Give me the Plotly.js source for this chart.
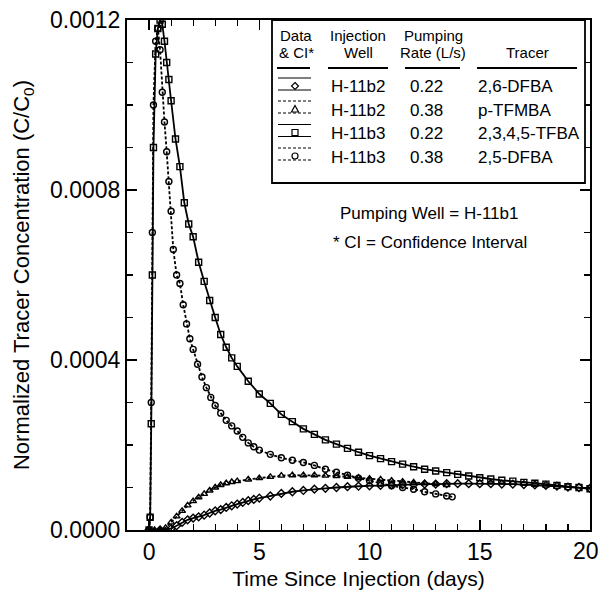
<!DOCTYPE html>
<html>
<head>
<meta charset="utf-8">
<script src="https://cdn.plot.ly/plotly-3.0.1.min.js"></script>
<style>html,body{margin:0;padding:0;background:#fff;}#chart{width:601px;height:602px;}</style>
</head>
<body>
<div id="chart"></div>
<script>
// ---- Data ----
// H-11b2, 0.22 L/s, 2,6-DFBA (diamonds, solid)
const tB2_022 = [0,0.5,1.0,1.25,1.5,1.75,2.0,2.25,2.5,2.75,3.0,3.25,3.5,3.75,4.0,4.25,4.5,4.75,5.0,5.5,6.0,6.5,7.0,7.5,8.0,8.5,9.0,9.5,10,10.5,11,11.5,12,12.5,13,13.5,14,14.5,15,15.5,16,16.5,17,17.5,18,18.5,19,19.5,20];
const cB2_022 = [0,0,0.03e-4,0.10e-4,0.18e-4,0.24e-4,0.28e-4,0.31e-4,0.35e-4,0.40e-4,0.45e-4,0.48e-4,0.53e-4,0.57e-4,0.61e-4,0.65e-4,0.69e-4,0.72e-4,0.75e-4,0.80e-4,0.86e-4,0.90e-4,0.93e-4,0.96e-4,0.98e-4,1.00e-4,1.02e-4,1.03e-4,1.04e-4,1.05e-4,1.06e-4,1.07e-4,1.07e-4,1.08e-4,1.08e-4,1.09e-4,1.09e-4,1.09e-4,1.09e-4,1.09e-4,1.08e-4,1.08e-4,1.07e-4,1.06e-4,1.05e-4,1.03e-4,1.01e-4,1.00e-4,0.98e-4];
// H-11b2, 0.38 L/s, p-TFMBA (triangles, dashed)
const tB2_038 = [0,0.25,0.5,0.75,1.0,1.25,1.5,1.75,2.0,2.25,2.5,2.75,3.0,3.25,3.5,3.75,4.0,4.5,5.0,5.5,6.0,6.5,7.0,7.5,8.0,8.5,9.0,9.5,10,10.5,11,11.5,12,12.5,13,13.5];
const cB2_038 = [0,0,0,0.05e-4,0.18e-4,0.32e-4,0.45e-4,0.58e-4,0.68e-4,0.77e-4,0.85e-4,0.93e-4,1.00e-4,1.06e-4,1.10e-4,1.13e-4,1.15e-4,1.19e-4,1.22e-4,1.25e-4,1.28e-4,1.29e-4,1.29e-4,1.29e-4,1.28e-4,1.27e-4,1.25e-4,1.23e-4,1.21e-4,1.19e-4,1.16e-4,1.14e-4,1.12e-4,1.10e-4,1.08e-4,1.06e-4];
// H-11b3, 0.22 L/s, 2,3,4,5-TFBA (squares, solid)
const tB3_022 = [0,0.05,0.1,0.15,0.2,0.3,0.4,0.5,0.6,0.7,0.8,0.9,1.0,1.2,1.4,1.6,1.8,2.0,2.25,2.5,2.75,3.0,3.25,3.5,3.75,4.0,4.5,5.0,5.5,6.0,6.5,7.0,7.5,8.0,8.5,9.0,9.5,10,10.5,11,11.5,12,12.5,13,13.5,14,14.5,15,15.5,16,16.5,17,17.5,18,18.5,19,19.5,20];
const cB3_022 = [0,0.3e-4,2.5e-4,6.0e-4,9.0e-4,11.2e-4,11.8e-4,12.0e-4,11.9e-4,11.5e-4,11.0e-4,10.6e-4,10.1e-4,9.2e-4,8.55e-4,7.7e-4,7.2e-4,6.9e-4,6.3e-4,5.85e-4,5.4e-4,5.0e-4,4.6e-4,4.3e-4,4.05e-4,3.85e-4,3.5e-4,3.2e-4,2.98e-4,2.72e-4,2.55e-4,2.38e-4,2.25e-4,2.12e-4,2.02e-4,1.92e-4,1.83e-4,1.75e-4,1.68e-4,1.61e-4,1.55e-4,1.49e-4,1.43e-4,1.39e-4,1.35e-4,1.31e-4,1.27e-4,1.23e-4,1.20e-4,1.17e-4,1.15e-4,1.12e-4,1.10e-4,1.08e-4,1.05e-4,1.02e-4,1.00e-4,0.97e-4];
// H-11b3, 0.38 L/s, 2,5-DFBA (circles, dashed)
const tB3_038 = [0,0.05,0.1,0.15,0.2,0.3,0.4,0.5,0.6,0.7,0.8,0.9,1.0,1.1,1.25,1.4,1.55,1.7,1.85,2.0,2.2,2.4,2.6,2.8,3.0,3.25,3.5,3.75,4.0,4.25,4.5,4.75,5.0,5.5,6.0,6.5,7.0,7.5,8.0,8.5,9.0,9.5,10,10.5,11,11.5,12,12.5,13,13.5,13.75];
const cB3_038 = [0,0.3e-4,3.0e-4,7.0e-4,10.0e-4,11.5e-4,11.8e-4,11.3e-4,10.3e-4,9.6e-4,8.9e-4,8.2e-4,7.5e-4,6.6e-4,6.0e-4,5.8e-4,5.3e-4,4.85e-4,4.5e-4,4.25e-4,3.9e-4,3.6e-4,3.35e-4,3.12e-4,2.93e-4,2.75e-4,2.58e-4,2.45e-4,2.33e-4,2.18e-4,2.05e-4,1.96e-4,1.88e-4,1.78e-4,1.70e-4,1.64e-4,1.59e-4,1.52e-4,1.43e-4,1.36e-4,1.29e-4,1.22e-4,1.16e-4,1.10e-4,1.04e-4,1.00e-4,0.96e-4,0.90e-4,0.85e-4,0.80e-4,0.78e-4];

// Legend table text
const headerCols = [["Data","& CI*"],["Injection","Well"],["Pumping","Rate (L/s)"],["","Tracer"]];
const wells = ["H-11b2","H-11b2","H-11b3","H-11b3"];
const rates = ["0.22","0.38","0.22","0.38"];
const tracers = ["2,6-DFBA","p-TFMBA","2,3,4,5-TFBA","2,5-DFBA"];
const symbols = ["diamond","triangle","square","circle"];
const dashes = ["solid","dash","solid","dash"];
// x tick labels; the last one (at the right frame edge) is placed as a right-aligned label so it stays inside the page
const xTickVals = [0, 5, 10, 15];
const xTickText = ['0', '5', '10', '15'];
const xLastTick = '20';

// ---- Layout geometry (pixels) ----
const W = 601, H = 602;
const L = 127, R = 590, T = 20, B = 530;
const px = x => (x - L) / (R - L);
const py = y => (B - y) / (B - T);

const series = [
  {t: tB2_022, c: cB2_022, sym: 'diamond-open', dash: 'solid', size: 6},
  {t: tB2_038, c: cB2_038, sym: 'triangle-up-open', dash: '3px,2px', size: 6},
  {t: tB3_022, c: cB3_022, sym: 'square-open', dash: 'solid', size: 6},
  {t: tB3_038, c: cB3_038, sym: 'circle-open', dash: '3px,2px', size: 6}
];
const traces = series.map(s => ({
  x: s.t, y: s.c, type: 'scatter', mode: 'lines+markers',
  line: {color: '#000', width: 1.8, dash: s.dash},
  marker: {symbol: s.sym, size: s.size, color: '#000', line: {color: '#000', width: 1.4}},
  showlegend: false, cliponaxis: true
}));

const shapes = [];
const annotations = [];
const FONT = 'Liberation Sans, Arial, sans-serif';
// legend box
shapes.push({type:'rect', xref:'paper', yref:'paper', x0:px(272), x1:px(585), y0:py(183), y1:py(20), line:{color:'#000', width:1.8}, fillcolor:'#fff', layer:'above'});
// header underlines
[[277,310],[328,388],[405,460],[477,577]].forEach(([a,b]) => {
  shapes.push({type:'line', xref:'paper', yref:'paper', x0:px(a), x1:px(b), y0:py(68), y1:py(68), line:{color:'#000', width:2}, layer:'above'});
});
const hdrX = [296, 358, 433, 527];
headerCols.forEach((h, i) => {
  [35, 53].forEach((yy, k) => {
    if (h[k]) annotations.push({xref:'paper', yref:'paper', x:px(hdrX[i]), y:py(yy), text:h[k], showarrow:false, xanchor:'center', yanchor:'middle', font:{family:FONT, size:15, color:'#000'}});
  });
});
const rowY = [87, 110, 133.5, 157];
rowY.forEach((yy, i) => {
  const dash = dashes[i] === 'dash' ? '3px,2px' : 'solid';
  [yy - 9, yy + 3].forEach(ly => shapes.push({type:'line', xref:'paper', yref:'paper', x0:px(278), x1:px(311), y0:py(ly), y1:py(ly), line:{color:'#000', width:1.2, dash:dash}, layer:'above'}));
  const mx = 295, my = yy - 1, r = 3;
  const sym = symbols[i];
  if (sym === 'square') shapes.push({type:'rect', xref:'paper', yref:'paper', x0:px(mx-r), x1:px(mx+r), y0:py(my+r), y1:py(my-r), line:{color:'#000', width:1.2}, layer:'above'});
  else if (sym === 'circle') shapes.push({type:'circle', xref:'paper', yref:'paper', x0:px(mx-r), x1:px(mx+r), y0:py(my+r), y1:py(my-r), line:{color:'#000', width:1.2}, layer:'above'});
  else {
    const pts = sym === 'diamond' ? [[mx,my-r-0.5],[mx+r+0.5,my],[mx,my+r+0.5],[mx-r-0.5,my]] : [[mx,my-r-0.5],[mx+r+0.5,my+r],[mx-r-0.5,my+r]];
    const path = pts.map((p,j) => (j?'L':'M') + px(p[0]).toFixed(5) + ',' + py(p[1]).toFixed(5)).join(' ') + ' Z';
    shapes.push({type:'path', xref:'paper', yref:'paper', path:path, line:{color:'#000', width:1.2}, layer:'above'});
  }
  const f = {family:FONT, size:17, color:'#000'};
  annotations.push({xref:'paper', yref:'paper', x:px(358), y:py(yy), text:wells[i], showarrow:false, xanchor:'center', yanchor:'middle', font:f});
  annotations.push({xref:'paper', yref:'paper', x:px(426), y:py(yy), text:rates[i], showarrow:false, xanchor:'center', yanchor:'middle', font:f});
  annotations.push({xref:'paper', yref:'paper', x:px(476), y:py(yy), text:tracers[i], showarrow:false, xanchor:'left', yanchor:'middle', font:f});
});
annotations.push({xref:'paper', yref:'paper', x:px(429), y:py(213), text:'Pumping Well = H-11b1', showarrow:false, xanchor:'center', yanchor:'middle', font:{family:FONT, size:17, color:'#000'}});
annotations.push({xref:'paper', yref:'paper', x:px(430), y:py(242), text:'* CI = Confidence Interval', showarrow:false, xanchor:'center', yanchor:'middle', font:{family:FONT, size:17, color:'#000'}});
// last x tick label, kept inside the page edge
annotations.push({xref:'paper', yref:'paper', x:px(600), y:py(551), text:xLastTick, showarrow:false, xanchor:'right', yanchor:'middle', xshift:0, borderpad:0, font:{family:FONT, size:23, color:'#000'}});

const axisCommon = {
  showline: true, linecolor: '#000', linewidth: 2, mirror: 'allticks',
  ticks: 'inside', ticklen: 10, tickwidth: 1.5, tickcolor: '#000',
  showgrid: false, zeroline: false,
  tickfont: {family: FONT, size: 23, color: '#000'}
};
const layout = {
  width: W, height: H,
  margin: {l: L, r: W - R, t: T, b: H - B},
  paper_bgcolor: '#fff', plot_bgcolor: '#fff',
  xaxis: Object.assign({}, axisCommon, {
    range: [-1, 20], tickmode: 'array', tickvals: xTickVals, ticktext: xTickText,
    minor: {ticks: 'inside', ticklen: 6, tickwidth: 1.2, tickcolor: '#000', dtick: 1, tick0: 0},
    title: {text: 'Time Since Injection (days)', font: {family: FONT, size: 21, color: '#000'}, standoff: 8}
  }),
  yaxis: Object.assign({}, axisCommon, {
    range: [0, 0.0012], tick0: 0, dtick: 0.0004, tickformat: '.4f',
    minor: {ticks: 'inside', ticklen: 6, tickwidth: 1.2, tickcolor: '#000', dtick: 0.0001, tick0: 0},
    title: {text: 'Normalized Tracer Concentration (C/C<sub>0</sub>)', font: {family: FONT, size: 22, color: '#000'}, standoff: 14}
  }),
  shapes: shapes,
  annotations: annotations,
  showlegend: false
};
Plotly.newPlot('chart', traces, layout, {displayModeBar: false, staticPlot: true});
</script>
</body>
</html>
